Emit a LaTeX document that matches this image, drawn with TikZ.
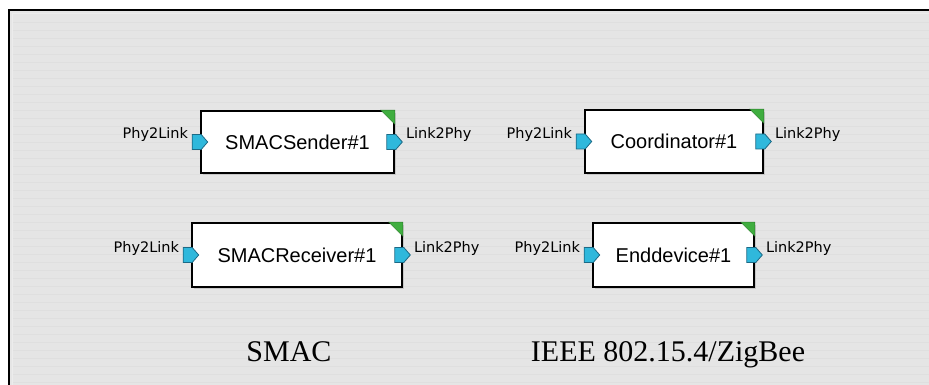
\documentclass[tikz,border=0pt]{standalone}
\usepackage{fontspec}
\setmainfont{Liberation Serif}
\newfontfamily\boxfont{Liberation Sans}
\newfontfamily\portfont{DejaVu Sans}
\usetikzlibrary{calc}
\definecolor{bgray}{HTML}{E5E5E5}
\definecolor{gridgray}{HTML}{DFDFDF}
\definecolor{portcyan}{HTML}{2FB8DC}
\definecolor{portedge}{HTML}{1C6A86}
\definecolor{cornergreen}{HTML}{3FAE3F}
\tikzset{
  blockbox/.style={draw=black, line width=1.6pt, fill=white, inner sep=0pt,
    font=\boxfont\fontsize{20}{20}\selectfont},
  portlbl/.style={font=\portfont\fontsize{14.5}{14.5}\selectfont, inner sep=0pt},
  portshape/.style={fill=portcyan, draw=portedge, line width=0.8pt, line join=miter},
  cornertri/.style={fill=cornergreen, draw=cornergreen!70!black, line width=0.5pt},
  boxshadow/.style={fill=black!22, draw=none},
  caption/.style={font=\fontsize{30}{30}\selectfont, inner sep=0pt}
}
\newcommand\mkblock[6]{%
  % #1 name, #2 cx, #3 cy, #4 width, #5 height, #6 text
  \fill[boxshadow] (#2-#4/2+2,#3-#5/2+2) rectangle (#2+#4/2+2,#3+#5/2+2);
  \node[blockbox, minimum width=#4pt, minimum height=#5pt] (#1) at (#2,#3) {#6};
  \draw[cornertri] ($(#1.north east)+(-14,0)$) -- (#1.north east) -- ($(#1.north east)+(0,14)$) -- cycle;
  \draw[portshape] ($(#1.west)+(-8,-7.5)$) -- ++(9,0) -- ++(6.5,7.5) -- ++(-6.5,7.5) -- ++(-9,0) -- cycle;
  \draw[portshape] ($(#1.east)+(-8,-7.5)$) -- ++(9,0) -- ++(6.5,7.5) -- ++(-6.5,7.5) -- ++(-9,0) -- cycle;
  \node[portlbl, anchor=base east] (#1in) at ($(#1.west)+(-12,-3)$) {Phy2Link};
  \node[portlbl, anchor=base west] (#1out) at ($(#1.east)+(11,-3)$) {Link2Phy};
}
\begin{document}
\begin{tikzpicture}[x=1pt, y=-1pt]
\useasboundingbox (0,0) rectangle (929,385);
\fill[white] (0,0) rectangle (929,385);
\fill[bgray] (9,10) rectangle (929,385);
\foreach \yy in {22,30,...,382} {
  \draw[gridgray, line width=0.5pt] (12,\yy) -- (929,\yy);
}
\draw[black, line width=2.4pt] (9,385) -- (9,10) -- (929,10);
\draw[white!85!gray, line width=0.8pt] (12,385) -- (12,13) -- (929,13);

\mkblock{sender}{297.5}{142}{193}{62}{SMACSender\#1}
\mkblock{coord}{674}{141.5}{178}{63}{Coordinator\#1}
\mkblock{receiver}{297}{255}{210}{64}{SMACReceiver\#1}
\mkblock{enddev}{673.5}{255}{161}{64}{Enddevice\#1}

\node[caption, anchor=base] (smac) at (289,361) {SMAC};
\node[caption, anchor=base] (ieee) at (668,361) {IEEE 802.15.4/ZigBee};
\end{tikzpicture}
\end{document}
